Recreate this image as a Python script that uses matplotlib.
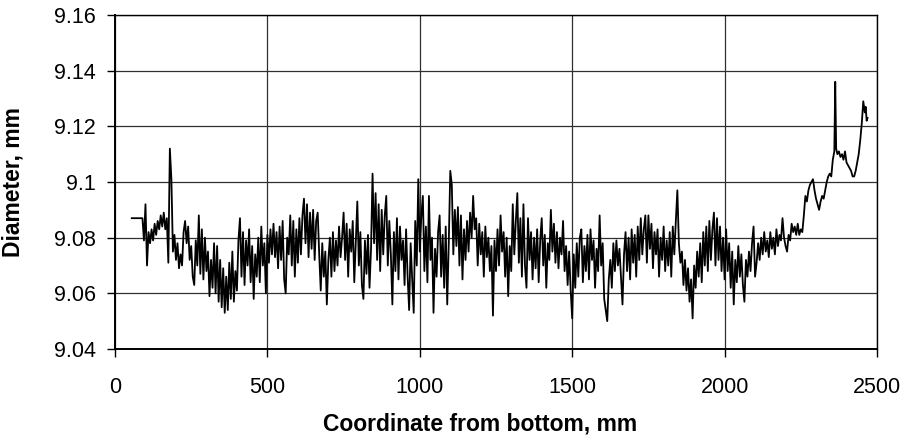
import numpy as np
import matplotlib
matplotlib.use("Agg")
import matplotlib.pyplot as plt

plt.rcParams['font.family'] = ['Liberation Sans', 'DejaVu Sans']

# flat start of the record
pos_start = [55, 90]
d_start = [9.087, 9.087]

# noisy middle part, sampled every 5 mm from 95 to 2250 mm
pos_main = list(range(95, 2255, 5))
d_main = [
    9.079, 9.092, 9.070, 9.082, 9.078, 9.083, 9.079, 9.085, 9.081, 9.086,
    9.083, 9.088, 9.084, 9.089, 9.083, 9.087, 9.071, 9.112, 9.101, 9.075,
    9.081, 9.072, 9.078, 9.069, 9.074, 9.070, 9.082, 9.086, 9.078, 9.084,
    9.072, 9.077, 9.066, 9.063, 9.079, 9.070, 9.088, 9.067, 9.083, 9.065,
    9.080, 9.068, 9.075, 9.059, 9.072, 9.062, 9.078, 9.060, 9.077, 9.057,
    9.072, 9.055, 9.069, 9.053, 9.066, 9.054, 9.071, 9.058, 9.075, 9.057,
    9.068, 9.061, 9.079, 9.087, 9.066, 9.082, 9.063, 9.079, 9.070, 9.083,
    9.064, 9.077, 9.058, 9.074, 9.066, 9.080, 9.064, 9.084, 9.070, 9.078,
    9.060, 9.081, 9.071, 9.083, 9.074, 9.085, 9.073, 9.082, 9.069, 9.084,
    9.072, 9.086, 9.065, 9.060, 9.080, 9.074, 9.088, 9.070, 9.086, 9.066,
    9.083, 9.071, 9.087, 9.074, 9.088, 9.094, 9.078, 9.092, 9.073, 9.089,
    9.076, 9.090, 9.072, 9.086, 9.089, 9.074, 9.061, 9.078, 9.066, 9.075,
    9.056, 9.072, 9.080, 9.066, 9.082, 9.068, 9.079, 9.070, 9.084, 9.073,
    9.080, 9.089, 9.072, 9.085, 9.066, 9.083, 9.075, 9.086, 9.064, 9.078,
    9.093, 9.070, 9.082, 9.063, 9.058, 9.079, 9.067, 9.081, 9.062, 9.076,
    9.103, 9.078, 9.096, 9.072, 9.092, 9.068, 9.090, 9.074, 9.088, 9.095,
    9.070, 9.086, 9.074, 9.056, 9.082, 9.068, 9.087, 9.065, 9.084, 9.072,
    9.079, 9.063, 9.083, 9.066, 9.054, 9.078, 9.065, 9.053, 9.086, 9.070,
    9.101, 9.075, 9.088, 9.095, 9.068, 9.084, 9.064, 9.095, 9.072, 9.080,
    9.053, 9.076, 9.066, 9.082, 9.088, 9.066, 9.081, 9.062, 9.084, 9.056,
    9.078, 9.104, 9.099, 9.074, 9.090, 9.077, 9.091, 9.070, 9.088, 9.065,
    9.083, 9.072, 9.086, 9.075, 9.089, 9.080, 9.095, 9.083, 9.087, 9.070,
    9.085, 9.074, 9.082, 9.066, 9.084, 9.073, 9.080, 9.068, 9.077, 9.052,
    9.079, 9.068, 9.083, 9.070, 9.088, 9.075, 9.082, 9.066, 9.080, 9.059,
    9.077, 9.068, 9.092, 9.074, 9.086, 9.096, 9.071, 9.087, 9.066, 9.092,
    9.070, 9.062, 9.087, 9.072, 9.082, 9.065, 9.080, 9.069, 9.083, 9.064,
    9.079, 9.087, 9.070, 9.081, 9.062, 9.078, 9.072, 9.090, 9.075, 9.085,
    9.071, 9.082, 9.069, 9.080, 9.074, 9.086, 9.068, 9.077, 9.063, 9.075,
    9.061, 9.051, 9.074, 9.062, 9.078, 9.066, 9.080, 9.083, 9.064, 9.077,
    9.068, 9.081, 9.065, 9.083, 9.072, 9.079, 9.062, 9.076, 9.068, 9.088,
    9.070, 9.078, 9.058, 9.054, 9.050, 9.065, 9.072, 9.062, 9.078, 9.068,
    9.079, 9.070, 9.076, 9.066, 9.056, 9.074, 9.082, 9.068, 9.080, 9.065,
    9.083, 9.071, 9.081, 9.066, 9.084, 9.072, 9.087, 9.074, 9.083, 9.088,
    9.071, 9.088, 9.076, 9.085, 9.069, 9.082, 9.074, 9.083, 9.066, 9.080,
    9.072, 9.084, 9.068, 9.079, 9.070, 9.082, 9.066, 9.084, 9.074, 9.086,
    9.097, 9.078, 9.071, 9.075, 9.063, 9.072, 9.061, 9.069, 9.057, 9.065,
    9.051, 9.070, 9.062, 9.075, 9.066, 9.078, 9.064, 9.082, 9.070, 9.084,
    9.068, 9.086, 9.072, 9.083, 9.089, 9.070, 9.087, 9.072, 9.084, 9.068,
    9.080, 9.065, 9.083, 9.068, 9.078, 9.062, 9.075, 9.056, 9.072, 9.064,
    9.077, 9.066, 9.074, 9.063, 9.057, 9.072, 9.066, 9.075, 9.068, 9.078,
    9.084, 9.066, 9.071, 9.078, 9.072, 9.080, 9.074, 9.082, 9.075, 9.079,
    9.073, 9.082, 9.076, 9.080, 9.074, 9.083, 9.077, 9.081, 9.079, 9.087,
    9.080, 9.077, 9.075, 9.081, 9.079, 9.085, 9.082, 9.084, 9.081, 9.085,
    9.081, 9.083,
]

# smoother rising end of the record
pos_tail = [2255, 2260, 2265, 2270, 2275, 2280, 2285, 2290, 2295, 2300,
            2305, 2310, 2315, 2320, 2325, 2330, 2335, 2340, 2345, 2350,
            2355, 2360, 2363, 2366, 2370, 2375, 2380, 2385, 2390, 2395,
            2400, 2405, 2410, 2415, 2420, 2425, 2430, 2435, 2440, 2445,
            2450, 2455, 2460, 2463, 2466, 2469]
d_tail = [9.082, 9.088, 9.095, 9.093, 9.097, 9.099, 9.100, 9.101, 9.097, 9.094,
          9.092, 9.090, 9.093, 9.095, 9.094, 9.097, 9.100, 9.102, 9.103, 9.102,
          9.108, 9.111, 9.136, 9.112, 9.110, 9.111, 9.109, 9.110, 9.108, 9.111,
          9.107, 9.106, 9.105, 9.104, 9.102, 9.102, 9.104, 9.107, 9.110, 9.115,
          9.121, 9.129, 9.125, 9.127, 9.122, 9.123]

x = pos_start + pos_main + pos_tail
y = d_start + d_main + d_tail

fig = plt.figure(figsize=(9.05, 4.41), dpi=100)
ax = fig.add_axes([115 / 905, 1 - 349 / 441, 762 / 905, 334 / 441])

ax.plot(x, y, color='black', linewidth=1.3)

ax.set_xlim(0, 2500)
ax.set_ylim(9.04, 9.16)
ax.set_xticks([0, 500, 1000, 1500, 2000, 2500])
ax.set_yticks([9.04, 9.06, 9.08, 9.10, 9.12, 9.14, 9.16])
ax.set_yticklabels(['9.04', '9.06', '9.08', '9.1', '9.12', '9.14', '9.16'])
ax.grid(True, color='#303030', linewidth=0.9)
ax.set_axisbelow(True)

for s in ax.spines.values():
    s.set_color('black')
    s.set_linewidth(1.0)
ax.spines['left'].set_linewidth(1.4)
ax.spines['bottom'].set_linewidth(1.4)

ax.tick_params(axis='both', direction='out', length=6, width=1, labelsize=15.5)
ax.tick_params(axis='y', pad=8)
ax.tick_params(axis='x', pad=14)

ax.set_xlabel('Coordinate from bottom, mm', fontsize=16.5, fontweight='bold')
ax.set_ylabel('Diameter, mm', fontsize=16.5, fontweight='bold')
ax.xaxis.set_label_coords(0.479, -0.19)
ax.yaxis.set_label_coords(-0.119, 0.5)

fig.savefig('out.png', dpi=100)
